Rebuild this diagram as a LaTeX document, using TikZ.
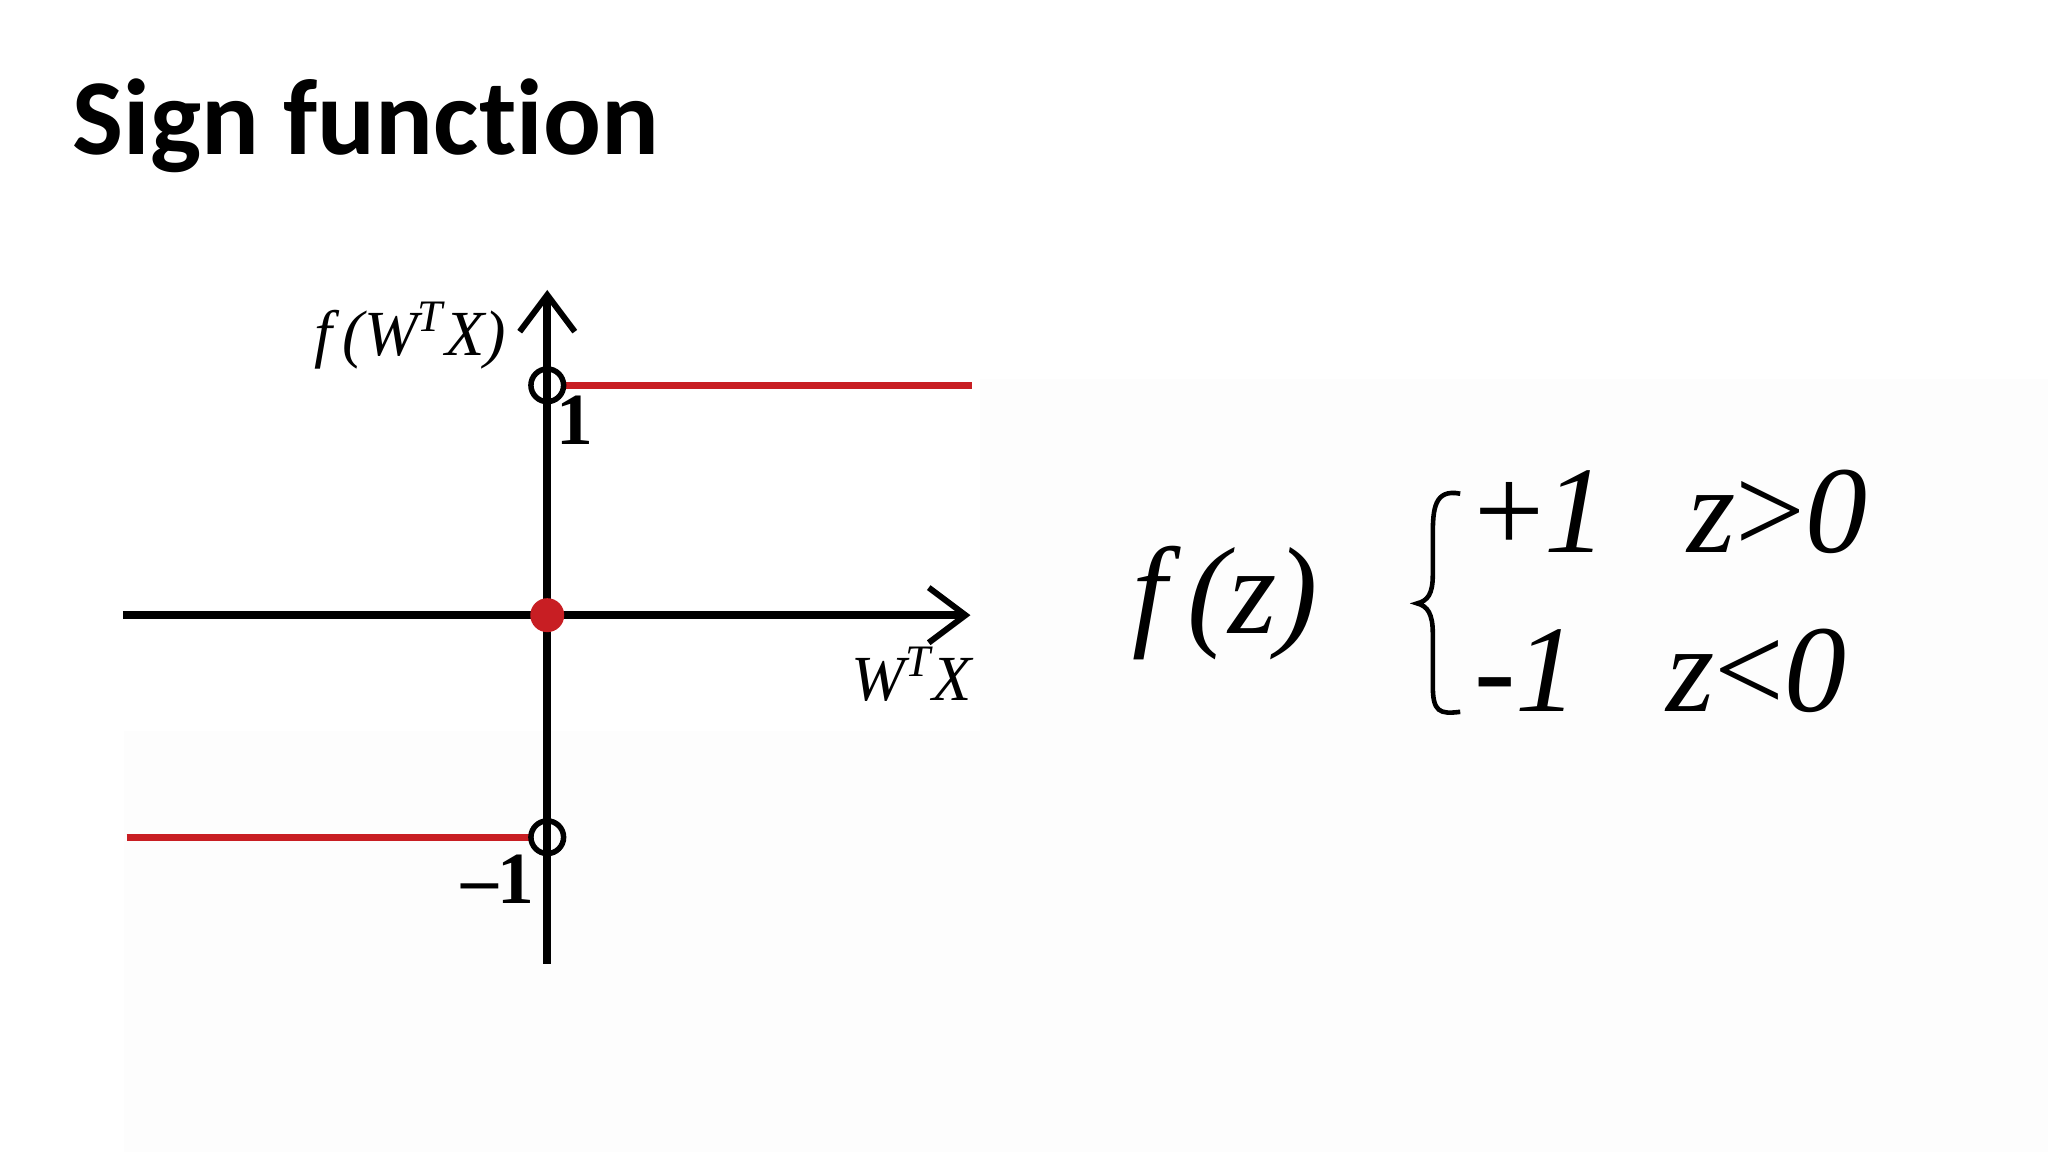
\documentclass[tikz,border=0pt]{standalone}
\usepackage{fontspec}
\setmainfont{Liberation Serif}
\newfontfamily\titlefont[Ligatures=NoCommon]{Carlito}
\usetikzlibrary{arrows.meta}
\begin{document}
\begin{tikzpicture}[x=0.01cm,y=-0.01cm,
  axis/.style={line width=1.7pt,-{Straight Barb[length=8pt,width=12pt,line width=1.3pt]}},
  redline/.style={line width=1.6pt,draw={rgb,255:red,200;green,30;blue,35}},
  hole/.style={circle,draw,line width=1.2pt,minimum size=0.25cm,inner sep=0pt},
  dot/.style={circle,fill={rgb,255:red,200;green,30;blue,35},minimum size=0.26cm,inner sep=0pt},
  lab/.style={font=\fontsize{14}{16}\selectfont\itshape,inner sep=0pt},
  big/.style={font=\fontsize{27}{30}\selectfont\itshape,inner sep=0pt}]
\useasboundingbox (0,0) rectangle (1568,882);
\fill[white!99.3!black] (95,560) rectangle (1568,882);
\fill[white!99.3!black] (750,290) rectangle (1568,560);
\node[anchor=base west,inner sep=0pt,font=\titlefont\bfseries\fontsize{23.5}{28}\selectfont] (title) at (55,118) {Sign function};
\coordinate (yb) at (419,738); \coordinate (yt) at (419,222);
\coordinate (xl) at (94,471); \coordinate (xr) at (743,471);
\draw[axis] (yb) -- (yt);
\draw[axis] (xl) -- (xr);
\coordinate (p1) at (432,295); \coordinate (p1e) at (744,295);
\coordinate (m1s) at (97,641); \coordinate (m1) at (406,641);
\draw[redline] (p1) -- (p1e);
\draw[redline] (m1s) -- (m1);
\node[hole] (h1) at (419,295) {};
\node[hole] (h2) at (419,641) {};
\node[dot] (o) at (419,471) {};
\node[font=\fontsize{16}{18}\selectfont\bfseries,anchor=base,inner sep=0pt] (one) at (440,340) {1};
\node[font=\fontsize{16}{18}\selectfont\bfseries,anchor=base east,inner sep=0pt] (mone) at (410,692) {–1};
\node[lab,anchor=base east] (fl) at (388,272) {f\,(W\textsuperscript{T}X)};
\node[lab,anchor=base east] (xlab) at (745,536) {W\textsuperscript{T}X};
\node[big,anchor=base west] (fz) at (866,485) {f\,(z)};
\draw[line width=1pt] (1118,378) .. controls (1098,374) and (1097,390) .. (1097,410) -- (1097,440) .. controls (1097,455) and (1093,460) .. (1085,462) .. controls (1093,464) and (1097,470) .. (1097,485) -- (1097,525) .. controls (1097,545) and (1102,547) .. (1118,545);
\node[big,anchor=base west] (r1) at (1128,423) {\upshape+\itshape 1\hspace{0.62cm}z\upshape>\itshape 0};
\node[big,anchor=base west] (r2) at (1128,545) {\upshape-\itshape 1\hspace{0.68cm}z\upshape<\itshape 0};
\end{tikzpicture}
\end{document}
